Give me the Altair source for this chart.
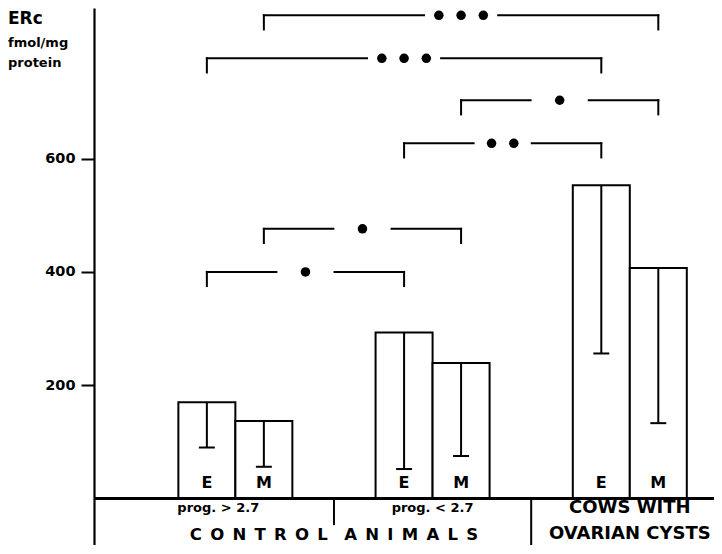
import altair as alt
import pandas as pd

# ---------------- data ----------------
groups = ["prog. > 2.7", "prog. < 2.7", "COWS WITH OVARIAN CYSTS"]
hormones = ["E", "M"]
mean_E = [170, 293, 553]
mean_M = [137, 239, 407]
low_E = [90, 52, 256]
low_M = [56, 75, 133]

# significance brackets: (group a, hormone a) vs (group b, hormone b)
cmp_group_a = [0, 0, 1, 1, 0, 0]
cmp_horm_a = ["E", "M", "E", "M", "E", "M"]
cmp_group_b = [1, 1, 2, 2, 2, 2]
cmp_horm_b = ["E", "M", "E", "M", "E", "M"]
cmp_height = [400, 476, 627, 703, 777, 853]
cmp_stars = [1, 1, 2, 1, 3, 3]

y_ticks = [200, 400, 600]

# ---------------- layout ----------------
FONT = "DejaVu Sans"
PAD_L = 86
W = 620
H = 537
UNIT = 57.0                      # px per bar width
XMAX = W / UNIT
ZERO_PX = 490.5                  # chart-y of value 0
KY = 0.5665                      # px per value unit
YMAX = ZERO_PX / KY
YMIN = -(H - ZERO_PX) / KY
GC0, GSTEP = 2.48, 3.46          # group centre layout (bar-width units)
group_center = [GC0 + GSTEP * i for i in range(len(groups))]

xs = alt.Scale(domain=[0, XMAX], nice=False, zero=False)
ys = alt.Scale(domain=[YMIN, YMAX], nice=False, zero=False)
yax = alt.Axis(values=y_ticks, tickSize=13, tickWidth=2, tickColor="black",
               domainColor="black", domainWidth=2.2, grid=False,
               labelFont=FONT, labelFontWeight="bold", labelFontSize=14.5,
               labelColor="black", labelPadding=6, title=None)


def whisker_x(g, h):
    return group_center[g] + (-0.5 if h == "E" else 0.5)


rows = []
for g, name in enumerate(groups):
    for h, means, lows in (("E", mean_E, low_E), ("M", mean_M, low_M)):
        xw = whisker_x(g, h)
        rows.append(dict(group=name, hormone=h, x0=xw - 0.5, x1=xw + 0.5, xw=xw,
                         cap0=xw - 0.14, cap1=xw + 0.14,
                         mean=means[g], low=lows[g]))
bars_df = pd.DataFrame(rows)

LEG = 25
seg_rows, star_rows = [], []
for ga, ha, gb, hb, yv, n in zip(cmp_group_a, cmp_horm_a, cmp_group_b, cmp_horm_b,
                                 cmp_height, cmp_stars):
    xa, xb = whisker_x(ga, ha), whisker_x(gb, hb)
    mid = (xa + xb) / 2
    hg = 0.51 if n < 3 else 0.65
    seg_rows += [dict(x=xa, x2=mid - hg, y=yv, y2=yv),
                 dict(x=mid + hg, x2=xb, y=yv, y2=yv),
                 dict(x=xa, x2=xa, y=yv, y2=yv - LEG),
                 dict(x=xb, x2=xb, y=yv, y2=yv - LEG)]
    for i in range(n):
        star_rows.append(dict(x=mid + (i - (n - 1) / 2) * 0.39, y=yv))
seg_df = pd.DataFrame(seg_rows)
star_df = pd.DataFrame(star_rows)

div_df = pd.DataFrame([
    dict(x=(group_center[0] + group_center[1]) / 2, y=0, y2=-47),
    dict(x=(group_center[1] + group_center[2]) / 2, y=0, y2=YMIN),
])

EN = "\u2002"
control_txt = EN.join("CONTROL") + EN * 2 + EN.join("ANIMALS")
lab_df = pd.DataFrame([
    dict(text=groups[0], x=group_center[0] - 0.3, y=-23.5, size=13),
    dict(text=groups[1], x=group_center[1], y=-23.5, size=13),
    dict(text=control_txt, x=(group_center[0] + group_center[1]) / 2, y=-73, size=16.5),
    dict(text="COWS WITH", x=group_center[2], y=-26, size=18),
    dict(text="OVARIAN CYSTS", x=group_center[2], y=-72, size=18),
])

base = alt.Chart(bars_df)

bars = base.mark_rect(fill="white", stroke="black", strokeWidth=2).encode(
    x=alt.X("x0:Q", scale=xs, axis=None),
    x2="x1:Q",
    y=alt.Y("mean:Q", scale=ys, axis=yax),
    y2=alt.Y2(datum=0),
)

whisk = base.mark_rule(color="black", strokeWidth=2).encode(
    x=alt.X("xw:Q", scale=xs, axis=None),
    y=alt.Y("low:Q", scale=ys, axis=yax),
    y2="mean:Q",
)
caps = base.mark_rule(color="black", strokeWidth=2).encode(
    x=alt.X("cap0:Q", scale=xs, axis=None),
    x2="cap1:Q",
    y=alt.Y("low:Q", scale=ys, axis=yax),
)
hlab = base.mark_text(font=FONT, fontWeight="bold", fontSize=16, color="black",
                      baseline="alphabetic").encode(
    x=alt.X("xw:Q", scale=xs, axis=None),
    y=alt.Y(datum=18.5, scale=ys, axis=yax),
    text="hormone:N",
)

baseline = alt.Chart(bars_df).mark_rule(color="black", strokeWidth=2.5).encode(
    x=alt.value(0), x2=alt.value(W),
    y=alt.Y(datum=0, scale=ys, axis=yax),
)

dividers = alt.Chart(div_df).mark_rule(color="black", strokeWidth=2).encode(
    x=alt.X("x:Q", scale=xs, axis=None),
    y=alt.Y("y:Q", scale=ys, axis=yax),
    y2="y2:Q",
)

brackets = alt.Chart(seg_df).mark_rule(color="black", strokeWidth=2,
                                       strokeCap="square").encode(
    x=alt.X("x:Q", scale=xs, axis=None),
    x2="x2:Q",
    y=alt.Y("y:Q", scale=ys, axis=yax),
    y2="y2:Q",
)

stars = alt.Chart(star_df).mark_point(shape="circle", filled=True, color="black",
                                      size=90, opacity=1).encode(
    x=alt.X("x:Q", scale=xs, axis=None),
    y=alt.Y("y:Q", scale=ys, axis=yax),
)

cat_labels = alt.Chart(lab_df).mark_text(font=FONT, fontWeight="bold", color="black",
                                         baseline="alphabetic").encode(
    x=alt.X("x:Q", scale=xs, axis=None),
    y=alt.Y("y:Q", scale=ys, axis=yax),
    text="text:N",
    size=alt.Size("size:Q", scale=None, legend=None),
)

head_df = pd.DataFrame([
    dict(text="ERc", py=16, size=17),
    dict(text="fmol/mg", py=39, size=13),
    dict(text="protein", py=59, size=13),
])
header = alt.Chart(head_df).mark_text(font=FONT, fontWeight="bold", color="black",
                                      align="left", baseline="alphabetic").encode(
    x=alt.value(-PAD_L),
    y=alt.Y("py:Q", scale=None, axis=None),
    text="text:N",
    size=alt.Size("size:Q", scale=None, legend=None),
)

chart = alt.layer(bars, whisk, caps, hlab, baseline, dividers, brackets, stars,
                  cat_labels, header).properties(
    width=W, height=H,
    autosize="none",
    padding={"left": PAD_L, "top": 0, "right": 0, "bottom": 0},
    background="white",
).configure_view(stroke=None)

chart.save("out.html", embed_options={"renderer": "svg", "actions": False})
